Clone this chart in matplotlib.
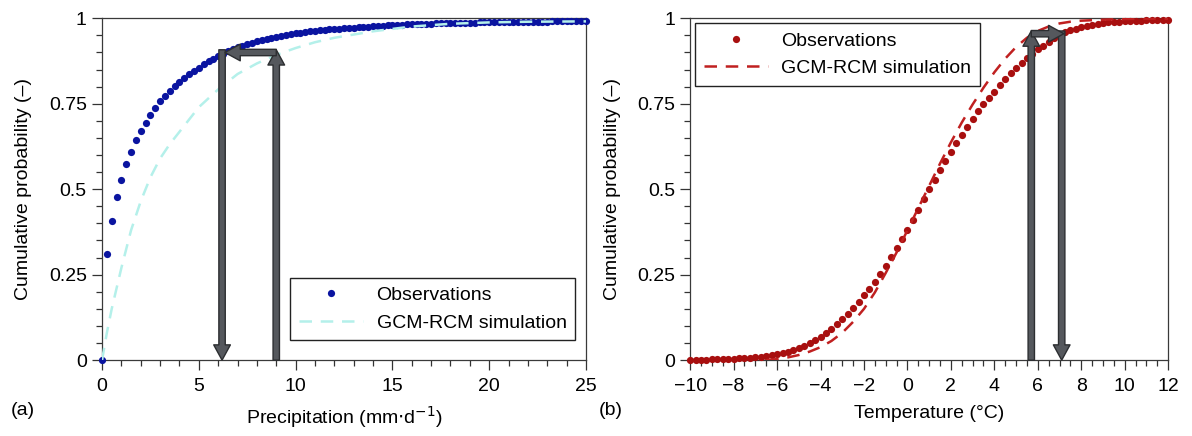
import numpy as np
import matplotlib.pyplot as plt
from matplotlib.patches import FancyArrowPatch
from matplotlib.ticker import MultipleLocator, FixedLocator

plt.rcParams["font.family"] = ["Liberation Sans", "DejaVu Sans"]
plt.rcParams["font.size"] = 14

# ---- (a) precipitation ----
precip_obs_x = np.arange(0, 25.001, 0.25)
precip_obs_p = [
    0.000, 0.310, 0.407, 0.476, 0.528, 0.574, 0.610, 0.643, 0.670, 0.695, 0.718, 0.738, 0.757, 0.773, 0.788, 0.801,
    0.813, 0.825, 0.836, 0.846,
    0.856, 0.865, 0.874, 0.882,
    0.890, 0.897, 0.903, 0.909,
    0.915, 0.920, 0.925, 0.929,
    0.933, 0.937, 0.940, 0.943,
    0.946, 0.949, 0.952, 0.954,
    0.956, 0.958, 0.960, 0.962,
    0.964, 0.965, 0.967, 0.968,
    0.969, 0.970, 0.971, 0.972,
    0.973, 0.974, 0.975, 0.976,
    0.977, 0.977, 0.978, 0.979,
    0.980, 0.980, 0.981, 0.982,
    0.982, 0.983, 0.983, 0.984,
    0.984, 0.985, 0.985, 0.985,
    0.986, 0.986, 0.986, 0.987,
    0.987, 0.987, 0.988, 0.988,
    0.988, 0.988, 0.989, 0.989,
    0.989, 0.989, 0.989, 0.990,
    0.990, 0.990, 0.990, 0.990,
    0.990, 0.991, 0.991, 0.991,
    0.991, 0.991, 0.991, 0.991,
    0.992,
]
precip_sim_x = [0, 0.25, 0.5, 1, 1.5, 2, 2.5, 3, 3.5, 4, 5, 6, 7, 8, 9, 10, 11, 12, 14, 16, 18, 20, 22, 25]
precip_sim_p = [0.0, 0.08, 0.15, 0.27, 0.38, 0.465, 0.535, 0.59, 0.632, 0.668, 0.74, 0.792, 0.837, 0.868,
                0.893, 0.913, 0.93, 0.943, 0.962, 0.976, 0.984, 0.988, 0.99, 0.991]
# quantile mapping example: simulated value -> observed value at same probability
precip_q = 0.9
precip_sim_val = 9.0
precip_obs_val = 6.2

# ---- (b) temperature ----
temp_obs_x = np.arange(-10, 12.001, 0.25)
temp_obs_p = [
    0.000, 0.001, 0.001, 0.001, 0.002, 0.002, 0.003, 0.003,
    0.004, 0.005, 0.006, 0.007, 0.008, 0.010, 0.012, 0.015,
    0.018, 0.021, 0.025, 0.030, 0.036, 0.042, 0.050, 0.059,
    0.069, 0.080, 0.092, 0.105, 0.120, 0.136, 0.153, 0.171,
    0.190, 0.209, 0.230, 0.252, 0.276, 0.302, 0.328, 0.355,
    0.382, 0.410, 0.440, 0.470, 0.500, 0.528, 0.556, 0.583,
    0.609, 0.634, 0.659, 0.683, 0.706, 0.728, 0.749, 0.767,
    0.785, 0.804, 0.822, 0.839, 0.855, 0.870, 0.884, 0.897,
    0.909, 0.920, 0.930, 0.941, 0.951, 0.959, 0.965, 0.970,
    0.975, 0.978, 0.981, 0.984, 0.986, 0.988, 0.989, 0.990,
    0.991, 0.992, 0.993, 0.993, 0.994, 0.994, 0.995, 0.995,
    0.995,
]
temp_sim_x = [-6.5, -6, -5.5, -5, -4.5, -4, -3.5, -3, -2.5, -2, -1.5, -1, -0.5, 0, 0.5, 1, 1.5, 2,
              2.5, 3, 3.5, 4, 4.5, 5, 5.5, 6, 6.5, 7, 7.5, 8, 9, 10, 11, 12]
temp_sim_p = [0.0, 0.003, 0.008, 0.015, 0.025, 0.038, 0.056, 0.08, 0.112, 0.15, 0.198, 0.255, 0.315,
              0.38, 0.445, 0.51, 0.575, 0.637, 0.695, 0.748, 0.797, 0.842, 0.882, 0.916, 0.943, 0.963,
              0.976, 0.985, 0.99, 0.993, 0.996, 0.998, 0.999, 0.999]
temp_q = 0.955
temp_sim_val = 5.7
temp_obs_val = 7.1

ARROW_FACE = "#55585d"
ARROW_EDGE = "#2c2e31"


def arrow(ax, start, end):
    a = FancyArrowPatch(start, end, arrowstyle="simple,head_length=11,head_width=12,tail_width=4.6",
                        mutation_scale=1, shrinkA=0, shrinkB=0, facecolor=ARROW_FACE,
                        edgecolor=ARROW_EDGE, lw=1.0, clip_on=False, zorder=5)
    ax.add_patch(a)


def style_axes(ax, xlim, xmajor, xminor):
    ax.set_xlim(*xlim)
    ax.set_ylim(0, 1)
    ax.xaxis.set_major_locator(MultipleLocator(xmajor))
    ax.xaxis.set_minor_locator(MultipleLocator(xminor))
    ax.yaxis.set_major_locator(FixedLocator([0, 0.25, 0.5, 0.75, 1]))
    ax.yaxis.set_minor_locator(MultipleLocator(0.05))
    ax.set_yticklabels(["0", "0.25", "0.5", "0.75", "1"])
    ax.tick_params(which="both", direction="out", color="#333333", width=0.9)
    ax.tick_params(which="major", length=7)
    ax.tick_params(which="minor", length=4.5)
    ax.tick_params(axis="x", pad=6)
    ax.tick_params(axis="y", pad=4)
    for s in ax.spines.values():
        s.set_color("#3a3a3a")
        s.set_linewidth(0.9)
    ax.set_ylabel("Cumulative probability (–)")
    ax.yaxis.set_label_coords(-0.145, 0.5)
    ax.xaxis.set_label_coords(0.5, -0.13)


LEGEND_KW = dict(borderaxespad=0, numpoints=1, fancybox=False, framealpha=1, edgecolor="#222222",
                 handlelength=3.3, handletextpad=0.7, labelspacing=0.5, borderpad=0.45, fontsize=14)

fig = plt.figure(figsize=(11.92, 4.36), dpi=100)
ax1 = fig.add_axes([0.0856, 0.174, 0.406, 0.784])
ax2 = fig.add_axes([0.579, 0.174, 0.401, 0.784])

# (a)
ax1.plot(precip_obs_x, precip_obs_p, "o", color="#0a14a0", ms=5.2, mew=0, clip_on=False,
         label="Observations", zorder=3)
ax1.plot(precip_sim_x, precip_sim_p, color="#b4f0ea", lw=1.8, dashes=(5, 3.5),
         label="GCM-RCM simulation", zorder=4)
arrow(ax1, (precip_obs_val, precip_q + 0.008), (precip_obs_val, 0))
arrow(ax1, (precip_sim_val, 0), (precip_sim_val, precip_q + 0.008))
arrow(ax1, (precip_sim_val, precip_q), (precip_obs_val + 0.15, precip_q))
style_axes(ax1, (0, 25), 5, 1)
ax1.set_xlabel("Precipitation (mm$\\cdot$d$^{-1}$)")
ax1.legend(loc="lower right", bbox_to_anchor=(0.978, 0.058), **LEGEND_KW)

# (b)
ax2.plot(temp_obs_x, temp_obs_p, "o", color="#a80f0f", ms=5.2, mew=0, clip_on=False,
         label="Observations", zorder=3)
ax2.plot(temp_sim_x, temp_sim_p, color="#c02020", lw=1.8, dashes=(5, 3.5),
         label="GCM-RCM simulation", zorder=4)
arrow(ax2, (temp_sim_val, 0), (temp_sim_val, temp_q + 0.008))
arrow(ax2, (temp_obs_val, temp_q + 0.008), (temp_obs_val, 0))
arrow(ax2, (temp_sim_val, temp_q), (temp_obs_val + 0.1, temp_q))
style_axes(ax2, (-10, 12), 2, 0.5)
ax2.set_xlabel("Temperature (°C)")
ax2.legend(loc="upper left", bbox_to_anchor=(0.01, 0.985), **LEGEND_KW)

fig.text(0.009, 0.058, "(a)", va="center", fontsize=14)
fig.text(0.502, 0.058, "(b)", va="center", fontsize=14)

fig.savefig("out.png", dpi=100)
